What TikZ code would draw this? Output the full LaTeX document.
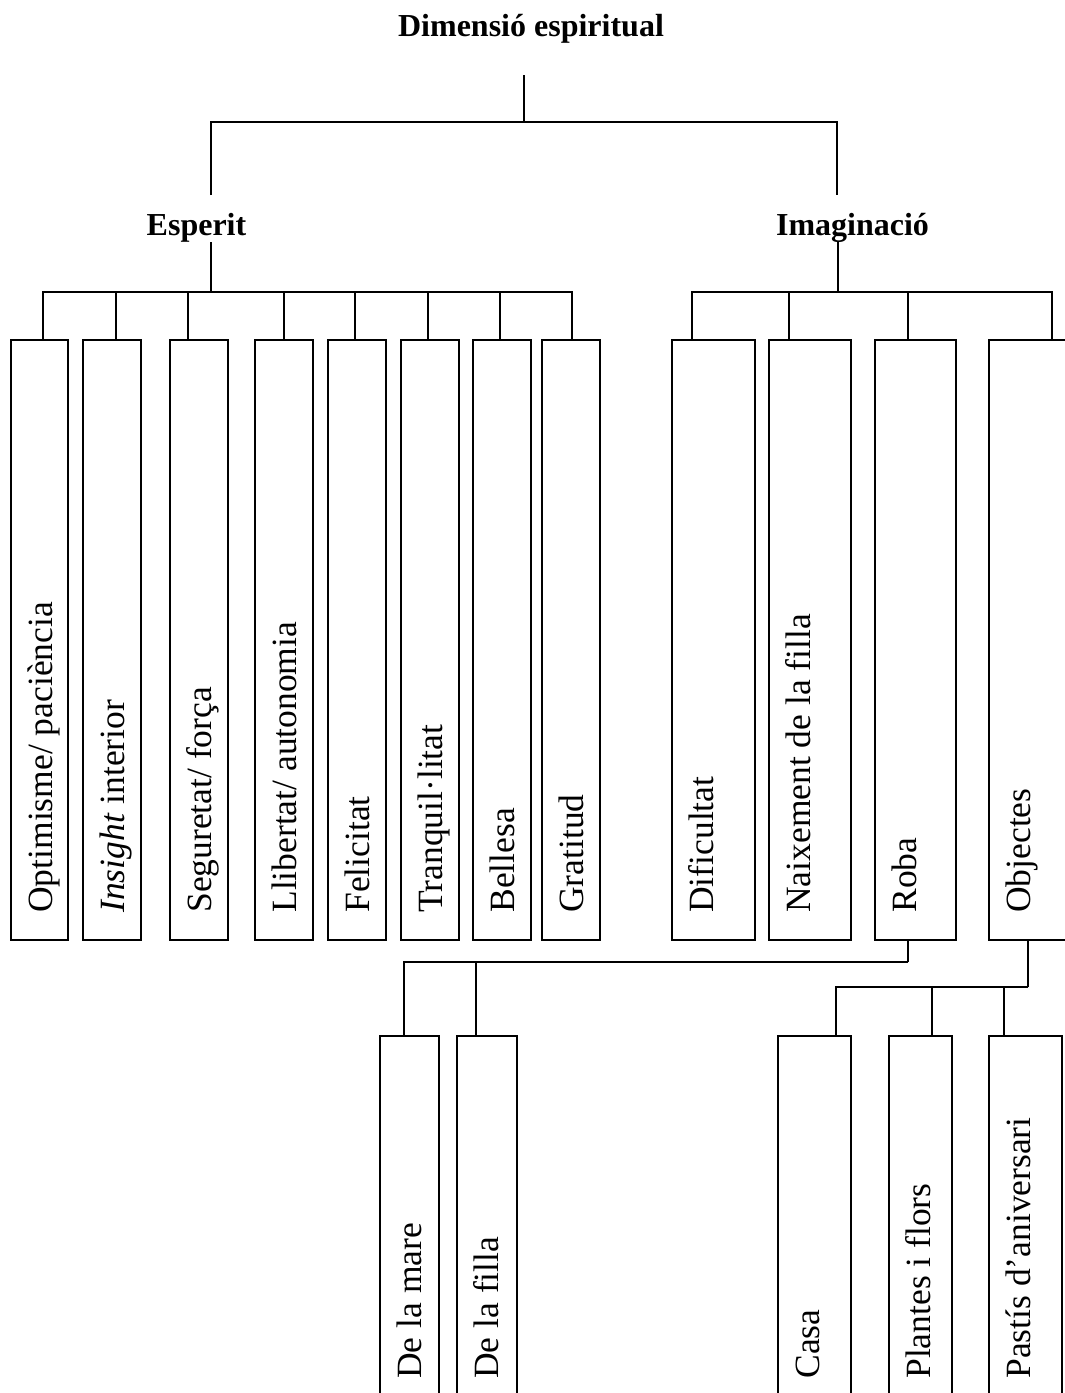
\documentclass[tikz,border=0pt]{standalone}
\usepackage{fontspec}
\setmainfont{Liberation Serif}
\usetikzlibrary{calc}
\begin{document}
\begin{tikzpicture}[x=1pt,y=-1pt,
  head/.style={font=\fontsize{32}{38}\selectfont\bfseries, inner sep=0, anchor=base},
  leaf/.style={draw, line width=1.7pt, inner sep=0, minimum height=600},
  lowleaf/.style={draw, line width=1.7pt, inner sep=0, minimum height=370},
  lbl/.style={font=\fontsize{35.5}{42}\selectfont, inner sep=0, rotate=90, anchor=base west},
  conn/.style={line width=1.4pt}]
\useasboundingbox (0,0) rectangle (1065,1393);
\clip (0,0) rectangle (1065,1393);

% headings
\node[head] (title) at (531,36) {Dimensió espiritual};
\node[head] (esperit) at (196.5,235) {Esperit};
\node[head] (imag) at (852.5,235) {Imaginació};

% junction points of the branch lines
\coordinate (root) at (524,75);
\coordinate (topbar) at (524,122);
\coordinate (espin) at (211,195);
\coordinate (imgin) at (837,195);
\coordinate (espout) at (211,242);
\coordinate (espbar) at (211,292);
\coordinate (imgout) at (838,242);
\coordinate (imgbar) at (838,292);
\coordinate (rb) at (908,962);
\coordinate (ob) at (1028,987);

% Esperit boxes
\node[leaf, minimum width=57] (opt)   at (39.5,640) {};
\node[leaf, minimum width=58] (ins)   at (112,640) {};
\node[leaf, minimum width=58] (seg)   at (199,640) {};
\node[leaf, minimum width=58] (llib)  at (284,640) {};
\node[leaf, minimum width=58] (fel)   at (357,640) {};
\node[leaf, minimum width=58] (tranq) at (430,640) {};
\node[leaf, minimum width=58] (bell)  at (502,640) {};
\node[leaf, minimum width=58] (grat)  at (571,640) {};

% Imaginacio boxes
\node[leaf, minimum width=83] (dif)  at (713.5,640) {};
\node[leaf, minimum width=82] (naix) at (810,640) {};
\node[leaf, minimum width=81] (roba) at (915.5,640) {};
\node[leaf, minimum width=83] (obj)  at (1030.5,640) {};

% lower boxes
\node[lowleaf, minimum width=59] (mare)  at (409.5,1221) {};
\node[lowleaf, minimum width=60] (filla) at (487,1221) {};
\node[lowleaf, minimum width=73] (casa)  at (814.5,1221) {};
\node[lowleaf, minimum width=63] (plant) at (920.5,1221) {};
\node[lowleaf, minimum width=73] (past)  at (1025.5,1221) {};

% labels
\node[lbl] at ($(opt.south west)+(42,-28)$) {Optimisme/ paciència};
\node[lbl] at ($(ins.south west)+(42,-28)$) {\textit{Insight} interior};
\node[lbl] at ($(seg.south west)+(42,-28)$) {Seguretat/ força};
\node[lbl] at ($(llib.south west)+(42,-28)$) {Llibertat/ autonomia};
\node[lbl] at ($(fel.south west)+(42,-28)$) {Felicitat};
\node[lbl] at ($(tranq.south west)+(42,-28)$) {Tranquil·litat};
\node[lbl] at ($(bell.south west)+(42,-28)$) {Bellesa};
\node[lbl] at ($(grat.south west)+(42,-28)$) {Gratitud};
\node[lbl] at ($(dif.south west)+(42,-28)$) {Dificultat};
\node[lbl] at ($(naix.south west)+(42,-28)$) {Naixement de la filla};
\node[lbl] at ($(roba.south west)+(42,-28)$) {Roba};
\node[lbl] at ($(obj.south west)+(42,-28)$) {Objectes};
\node[lbl] at ($(mare.south west)+(42,-28)$) {De la mare};
\node[lbl] at ($(filla.south west)+(42,-28)$) {De la filla};
\node[lbl] at ($(casa.south west)+(42,-28)$) {Casa};
\node[lbl] at ($(plant.south west)+(42,-28)$) {Plantes i flors};
\node[lbl] at ($(past.south west)+(42,-28)$) {Pastís d’aniversari};

% connectors
\draw[conn] (root) -- (topbar);
\draw[conn] (espin) |- (topbar) -| (imgin);
\draw[conn] (espout) -- (espbar);
\draw[conn] (imgout) -- (imgbar);

\draw[conn] (espbar) -| ([xshift=3.5]opt.north);
\draw[conn] (espbar) -| ([xshift=4]ins.north);
\draw[conn] (espbar) -| ([xshift=-11]seg.north);
\draw[conn] (espbar) -| (llib.north);
\draw[conn] (espbar) -| ([xshift=-2]fel.north);
\draw[conn] (espbar) -| ([xshift=-2]tranq.north);
\draw[conn] (espbar) -| ([xshift=-2]bell.north);
\draw[conn] (espbar) -| ([xshift=1]grat.north);

\draw[conn] (imgbar) -| ([xshift=-21.5]dif.north);
\draw[conn] (imgbar) -| ([xshift=-21]naix.north);
\draw[conn] (imgbar) -| ([xshift=-7.5]roba.north);
\draw[conn] (imgbar) -| ([xshift=21.5]obj.north);

\draw[conn] ([xshift=-7.5]roba.south) -- (rb);
\draw[conn] (rb) -| ([xshift=-5.5]mare.north);
\draw[conn] (rb) -| ([xshift=-11]filla.north);

\draw[conn] ([xshift=-2.5]obj.south) -- (ob);
\draw[conn] (ob) -| ([xshift=21.5]casa.north);
\draw[conn] (ob) -| ([xshift=11.5]plant.north);
\draw[conn] (ob) -| ([xshift=-21.5]past.north);
\end{tikzpicture}
\end{document}
